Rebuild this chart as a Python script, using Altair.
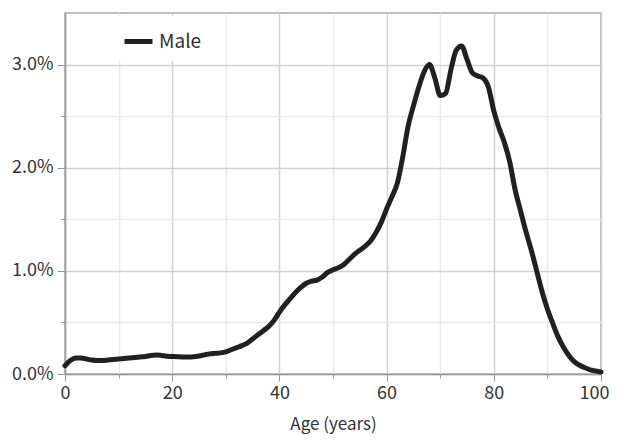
import altair as alt
import pandas as pd

ages = list(range(0, 101))
male_pct = [
    0.08, 0.13, 0.155, 0.155, 0.145, 0.135, 0.13, 0.13, 0.135, 0.14,
    0.145, 0.15, 0.155, 0.16, 0.165, 0.17, 0.18, 0.185, 0.18, 0.172,
    0.17, 0.168, 0.165, 0.165, 0.168, 0.175, 0.185, 0.195, 0.2, 0.205,
    0.215, 0.235, 0.255, 0.275, 0.3, 0.34, 0.38, 0.42, 0.46, 0.52,
    0.6, 0.67, 0.73, 0.79, 0.84, 0.88, 0.9, 0.91, 0.94, 0.985,
    1.01, 1.03, 1.06, 1.11, 1.16, 1.2, 1.24, 1.29, 1.37, 1.47,
    1.6, 1.72, 1.85, 2.1, 2.4, 2.6, 2.78, 2.93, 3.0, 2.87,
    2.7, 2.72, 2.95, 3.14, 3.18, 3.05, 2.92, 2.89, 2.87, 2.78,
    2.55, 2.38, 2.24, 2.05, 1.78, 1.58, 1.38, 1.2, 1.0, 0.8,
    0.63, 0.49, 0.36, 0.26, 0.18, 0.12, 0.085, 0.06, 0.04, 0.03,
    0.02,
]
series = "Male"
x_ticks = [0, 10, 20, 30, 40, 50, 60, 70, 80, 90, 100]
y_ticks = [0, 0.005, 0.01, 0.015, 0.02, 0.025, 0.03]

df = pd.DataFrame({
    "age": ages,
    "share": [v / 100 for v in male_pct],
    "sex": [series] * len(ages),
})

FONT = "Noto Sans CJK JP"

x_axis = alt.Axis(
    values=x_ticks,
    title="Age (years)",
    labelExpr="datum.value % 20 === 0 ? datum.label : ''",
    labelFlush=False,
    labelOffset={"condition": {"test": "datum.value === 100", "value": -7}, "value": 0},
    gridColor={"condition": {"test": "datum.value % 20 === 0", "value": "#d2d2d2"}, "value": "#ebebeb"},
    tickSize={"condition": {"test": "datum.value % 20 === 0", "value": 7}, "value": 4},
    tickColor="#999999",
    domainColor="#999999",
    domainWidth=1.5,
    gridWidth=1.5,
    labelFontSize=18,
    labelColor="#333333",
    labelPadding=3,
    titleFontSize=17,
    titleFontWeight="normal",
    titleColor="#333333",
    titlePadding=14,
    labelFont=FONT,
    titleFont=FONT,
)
y_axis = alt.Axis(
    values=y_ticks,
    title=None,
    format=".1%",
    labelExpr="round(datum.value*1000) % 10 === 0 ? datum.label : ''",
    gridColor={"condition": {"test": "round(datum.value*1000) % 10 === 0", "value": "#d2d2d2"}, "value": "#ebebeb"},
    tickSize={"condition": {"test": "round(datum.value*1000) % 10 === 0", "value": 8}, "value": 4},
    tickColor="#999999",
    domainColor="#999999",
    domainWidth=1.5,
    gridWidth=1.5,
    labelFontSize=18,
    labelColor="#333333",
    labelPadding=4,
    labelFont=FONT,
)

chart = (
    alt.Chart(df)
    .mark_line(strokeWidth=5, interpolate="monotone", strokeCap="round", strokeJoin="round")
    .encode(
        x=alt.X("age:Q", scale=alt.Scale(domain=[0, 100], nice=False), axis=x_axis),
        y=alt.Y("share:Q", scale=alt.Scale(domain=[0, 0.035], nice=False), axis=y_axis),
        color=alt.Color(
            "sex:N",
            scale=alt.Scale(domain=[series], range=["#231f20"]),
            legend=alt.Legend(
                title=None,
                orient="none",
                legendX=48,
                legendY=3,
                fillColor="white",
                padding=9,
                symbolType="stroke",
                symbolSize=784,
                symbolStrokeWidth=5,
                labelFontSize=19,
                labelColor="#333333",
                labelFont=FONT,
                labelOffset=4,
            ),
        ),
    )
    .properties(
        width=536,
        height=361,
        autosize=alt.AutoSizeParams(type="none"),
        padding={"left": 57, "top": 5, "right": 9, "bottom": 60},
        background="white",
    )
    .configure_view(stroke="#aaaaaa", strokeWidth=1.5)
)

chart.save("out.html", embed_options={"renderer": "svg", "actions": False})
